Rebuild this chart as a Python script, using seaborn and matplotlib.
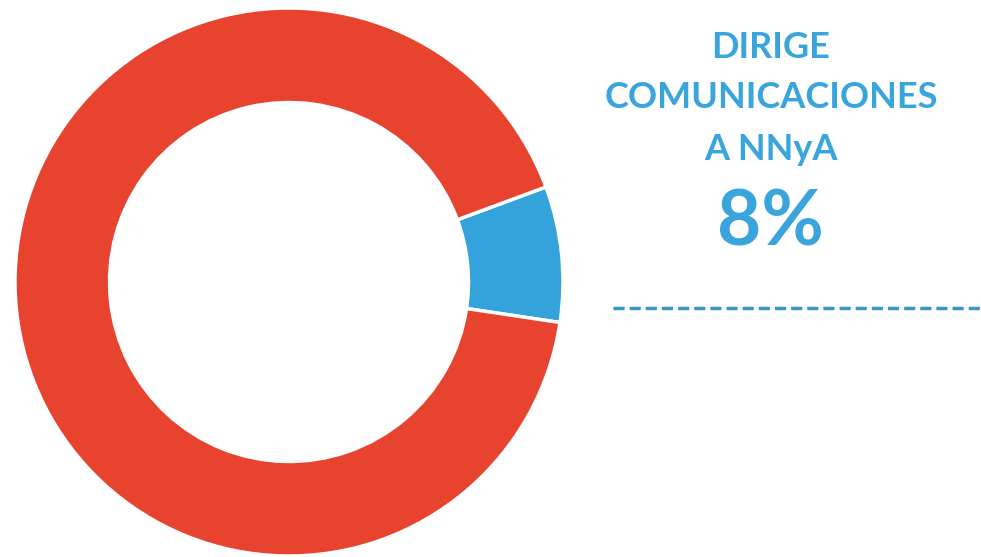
import matplotlib
matplotlib.use("Agg")
import matplotlib.pyplot as plt
import seaborn as sns

# Data
categories = ["Dirige comunicaciones a NNyA", "Otros"]
values = [8, 92]
colors = ["#35A3DB", "#E8432F"]
label_lines = ["DIRIGE", "COMUNICACIONES", "A NNyA"]
pct_label = "8%"

sns.set_theme(style="white")
plt.rcParams["font.family"] = ["Lato", "DejaVu Sans"]

W, H = 981, 557
fig = plt.figure(figsize=(W / 100, H / 100), dpi=100)
fig.patch.set_facecolor("white")

cx, cy, R = 289, 282, 274
ax = fig.add_axes([(cx - R) / W, (H - cy - R) / H, 2 * R / W, 2 * R / H])
ax.pie(values, colors=colors, startangle=-8.5, counterclock=True,
       radius=1.0,
       wedgeprops=dict(width=0.345, edgecolor="white", linewidth=2.5))
ax.set_xlim(-1, 1)
ax.set_ylim(-1, 1)
ax.set_aspect("equal")
ax.axis("off")

ax2 = fig.add_axes([0, 0, 1, 1])
ax2.set_xlim(0, W)
ax2.set_ylim(H, 0)
ax2.axis("off")
ax2.patch.set_alpha(0)

txt_color = "#3AA5DC"
ys = [48, 98, 150]
for line, y in zip(label_lines, ys):
    ax2.text(771, y, line, ha="center", va="center", fontsize=26,
             fontweight="bold", color=txt_color)
ax2.text(770, 224, pct_label, ha="center", va="center", fontsize=55,
         fontweight="bold", color=txt_color)

ax2.plot([613, 981], [308, 308], color="#3796C8", linewidth=2.5,
         dashes=(3.2, 1.45), solid_capstyle="butt", dash_capstyle="butt")

fig.savefig("out.png", dpi=100, facecolor="white")
